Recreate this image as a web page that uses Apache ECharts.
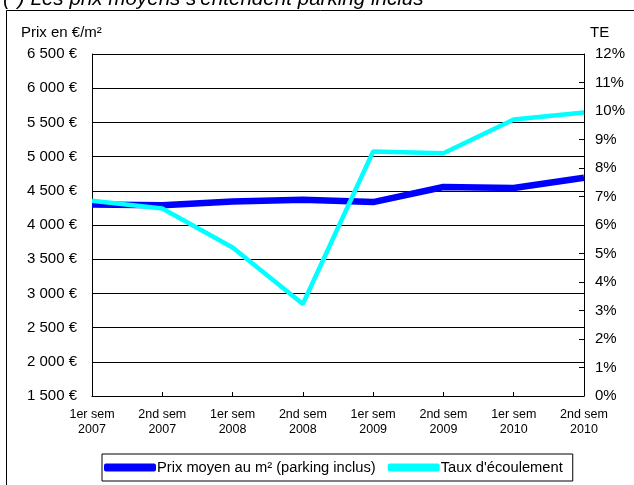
<!DOCTYPE html>
<html>
<head>
<meta charset="utf-8">
<script src="https://cdn.jsdelivr.net/npm/echarts@6/dist/echarts.min.js"></script>
<style>
html,body{margin:0;padding:0;background:#fff;}
#c{width:634px;height:485px;}
</style>
</head>
<body>
<div id="c"></div>
<script>
const categories = ['1er sem\n2007','2nd sem\n2007','1er sem\n2008','2nd sem\n2008','1er sem\n2009','2nd sem\n2009','1er sem\n2010','2nd sem\n2010'];
const prixMoyen = [4300, 4290, 4345, 4370, 4335, 4555, 4540, 4690];
const tauxEcoulement = [0.0685, 0.0658, 0.0521, 0.0323, 0.0858, 0.0852, 0.0970, 0.0995];
const seriesNames = ['Prix moyen au m² (parking inclus)', "Taux d'écoulement"];

const FONT = 'Arial, "Liberation Sans", sans-serif';
function euro(v){
  const s = String(Math.round(v));
  return s.replace(/\B(?=(\d{3})+(?!\d))/g, ' ') + ' €';
}
const chart = echarts.init(document.getElementById('c'), null, {renderer:'canvas'});
chart.setOption({
  animation:false,
  backgroundColor:'#fff',
  textStyle:{fontFamily:FONT, color:'#000'},
  graphic:[
    {type:'rect', shape:{x:6.5,y:10.5,width:700,height:600}, style:{fill:'none', stroke:'#000', lineWidth:1}, silent:true},
    {type:'text', x:3, y:-1, style:{text:"(*) Les prix moyens s'entendent parking inclus", font:'italic 20.6px '+FONT, fill:'#000', verticalAlign:'middle', align:'left'}},
    {type:'text', x:21, y:33, style:{text:'Prix en €/m²', font:'15px '+FONT, fill:'#000', verticalAlign:'middle', align:'left'}},
    {type:'text', x:590, y:33, style:{text:'TE', font:'15px '+FONT, fill:'#000', verticalAlign:'middle', align:'left'}}
  ],
  grid:{left:92, right:50, top:54, bottom:89, containLabel:false},
  legend:{
    data:seriesNames,
    left:102, top:454,
    orient:'horizontal',
    backgroundColor:'#fff',
    borderColor:'#000', borderWidth:1, borderRadius:0,
    padding:[6,10,6,2],
    itemGap:12,
    itemWidth:52, itemHeight:8,
    icon:'roundRect',
    textStyle:{fontFamily:FONT, fontSize:14.7, color:'#000', padding:[0,0,0,-4]}
  },
  xAxis:{
    type:'category', data:categories, boundaryGap:false,
    axisLine:{lineStyle:{color:'#000', width:1}},
    axisTick:{inside:true, length:4, lineStyle:{color:'#000'}},
    axisLabel:{fontFamily:FONT, fontSize:12.5, color:'#000', lineHeight:15, margin:11, interval:0},
    splitLine:{show:false}
  },
  yAxis:[
    {type:'value', min:1500, max:6500, interval:500,
     axisLine:{show:true, lineStyle:{color:'#000'}},
     axisTick:{show:true, inside:true, length:4, lineStyle:{color:'#000'}},
     axisLabel:{fontFamily:FONT, fontSize:15, color:'#000', margin:15, formatter:euro},
     splitLine:{show:true, lineStyle:{color:'#000', width:1}}
    },
    {type:'value', min:0, max:0.12, interval:0.01, position:'right',
     axisLine:{show:true, lineStyle:{color:'#000'}},
     axisTick:{show:true, inside:true, length:5, lineStyle:{color:'#000'}},
     axisLabel:{fontFamily:FONT, fontSize:15, color:'#000', margin:11, formatter:v=>Math.round(v*100)+'%'},
     splitLine:{show:false}
    }
  ],
  series:[
    {name:seriesNames[0], type:'line', yAxisIndex:0, data:prixMoyen, symbol:'none',
     lineStyle:{color:'#0000ff', width:6.5}, itemStyle:{color:'#0000ff'}, z:3},
    {name:seriesNames[1], type:'line', yAxisIndex:1, data:tauxEcoulement, symbol:'none',
     lineStyle:{color:'#00ffff', width:4.5}, itemStyle:{color:'#00ffff'}, z:4}
  ]
});
</script>
</body>
</html>
